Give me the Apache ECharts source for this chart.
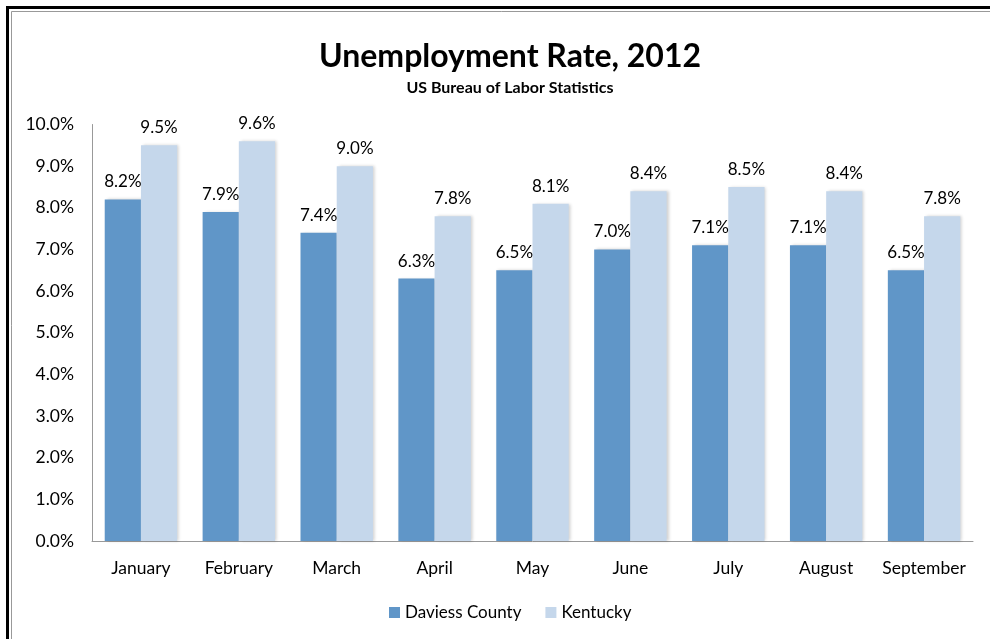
<!DOCTYPE html>
<html>
<head>
<meta charset="utf-8">
<script src="https://cdn.jsdelivr.net/npm/echarts@6/dist/echarts.min.js"></script>
<style>html,body{margin:0;padding:0;background:#fff;}#c{width:990px;height:639px;}</style>
</head>
<body>
<div id="c"></div>
<script>
const months = ['January','February','March','April','May','June','July','August','September'];
const daviess = [8.2, 7.9, 7.4, 6.3, 6.5, 7.0, 7.1, 7.1, 6.5];
const kentucky = [9.5, 9.6, 9.0, 7.8, 8.1, 8.4, 8.5, 8.4, 7.8];
const seriesNames = ['Daviess County', 'Kentucky'];
const yTicks = {min: 0, max: 10, interval: 1};

const FONT = 'Lato, "Open Sans", sans-serif';
const chart = echarts.init(document.getElementById('c'), null, {renderer: 'canvas'});
const labelFmt = p => p.value.toFixed(1) + '%';
const shadow = {shadowBlur: 3, shadowOffsetX: 2, shadowOffsetY: 0, shadowColor: 'rgba(0,0,0,0.18)'};
chart.setOption({
  animation: false,
  backgroundColor: '#fff',
  title: {
    text: 'Unemployment Rate, 2012',
    subtext: 'US Bureau of Labor Statistics',
    left: 505, textAlign: 'center', top: 36,
    itemGap: 7,
    textStyle: {fontFamily: FONT, fontWeight: 'bold', fontSize: 32, color: '#000'},
    subtextStyle: {fontFamily: FONT, fontWeight: 'bold', fontSize: 16, color: '#000'}
  },
  legend: {
    data: seriesNames,
    left: 384, top: 599,
    itemWidth: 11, itemHeight: 11, itemGap: 24,
    icon: 'rect',
    textStyle: {fontFamily: FONT, fontSize: 17, color: '#000'}
  },
  grid: {left: 92, right: 17, top: 124.5, bottom: 98, containLabel: false},
  xAxis: {
    type: 'category', data: months,
    axisLine: {lineStyle: {color: '#999', width: 1}},
    axisTick: {show: false},
    axisLabel: {interval: 0, fontFamily: FONT, fontSize: 17.5, color: '#000', margin: 18}
  },
  yAxis: {
    type: 'value', min: yTicks.min, max: yTicks.max, interval: yTicks.interval,
    axisLine: {show: true, lineStyle: {color: '#999', width: 1}},
    axisTick: {show: false},
    splitLine: {show: false},
    axisLabel: {fontFamily: FONT, fontSize: 17.5, color: '#000', margin: 18,
      formatter: v => v.toFixed(1) + '%'}
  },
  series: [
    {name: seriesNames[0], type: 'bar', data: daviess, barGap: '0%', barCategoryGap: '26%',
     itemStyle: Object.assign({color: '#6096C8'}, shadow),
     label: {show: true, position: 'top', distance: 9, formatter: labelFmt,
       fontFamily: FONT, fontSize: 17, color: '#000'}},
    {name: seriesNames[1], type: 'bar', data: kentucky, barGap: '0%', barCategoryGap: '26%',
     itemStyle: Object.assign({color: '#C5D7EB'}, shadow),
     label: {show: true, position: 'top', distance: 9, formatter: labelFmt,
       fontFamily: FONT, fontSize: 17, color: '#000'}}
  ],
  graphic: [
    {type: 'rect', shape: {x: 7.5, y: 7.5, width: 1100, height: 1100},
     style: {fill: 'none', stroke: '#000', lineWidth: 3}, silent: true},
    {type: 'rect', shape: {x: 11.5, y: 11.5, width: 1100, height: 1100},
     style: {fill: 'none', stroke: '#999', lineWidth: 1}, silent: true}
  ]
});
</script>
</body>
</html>
